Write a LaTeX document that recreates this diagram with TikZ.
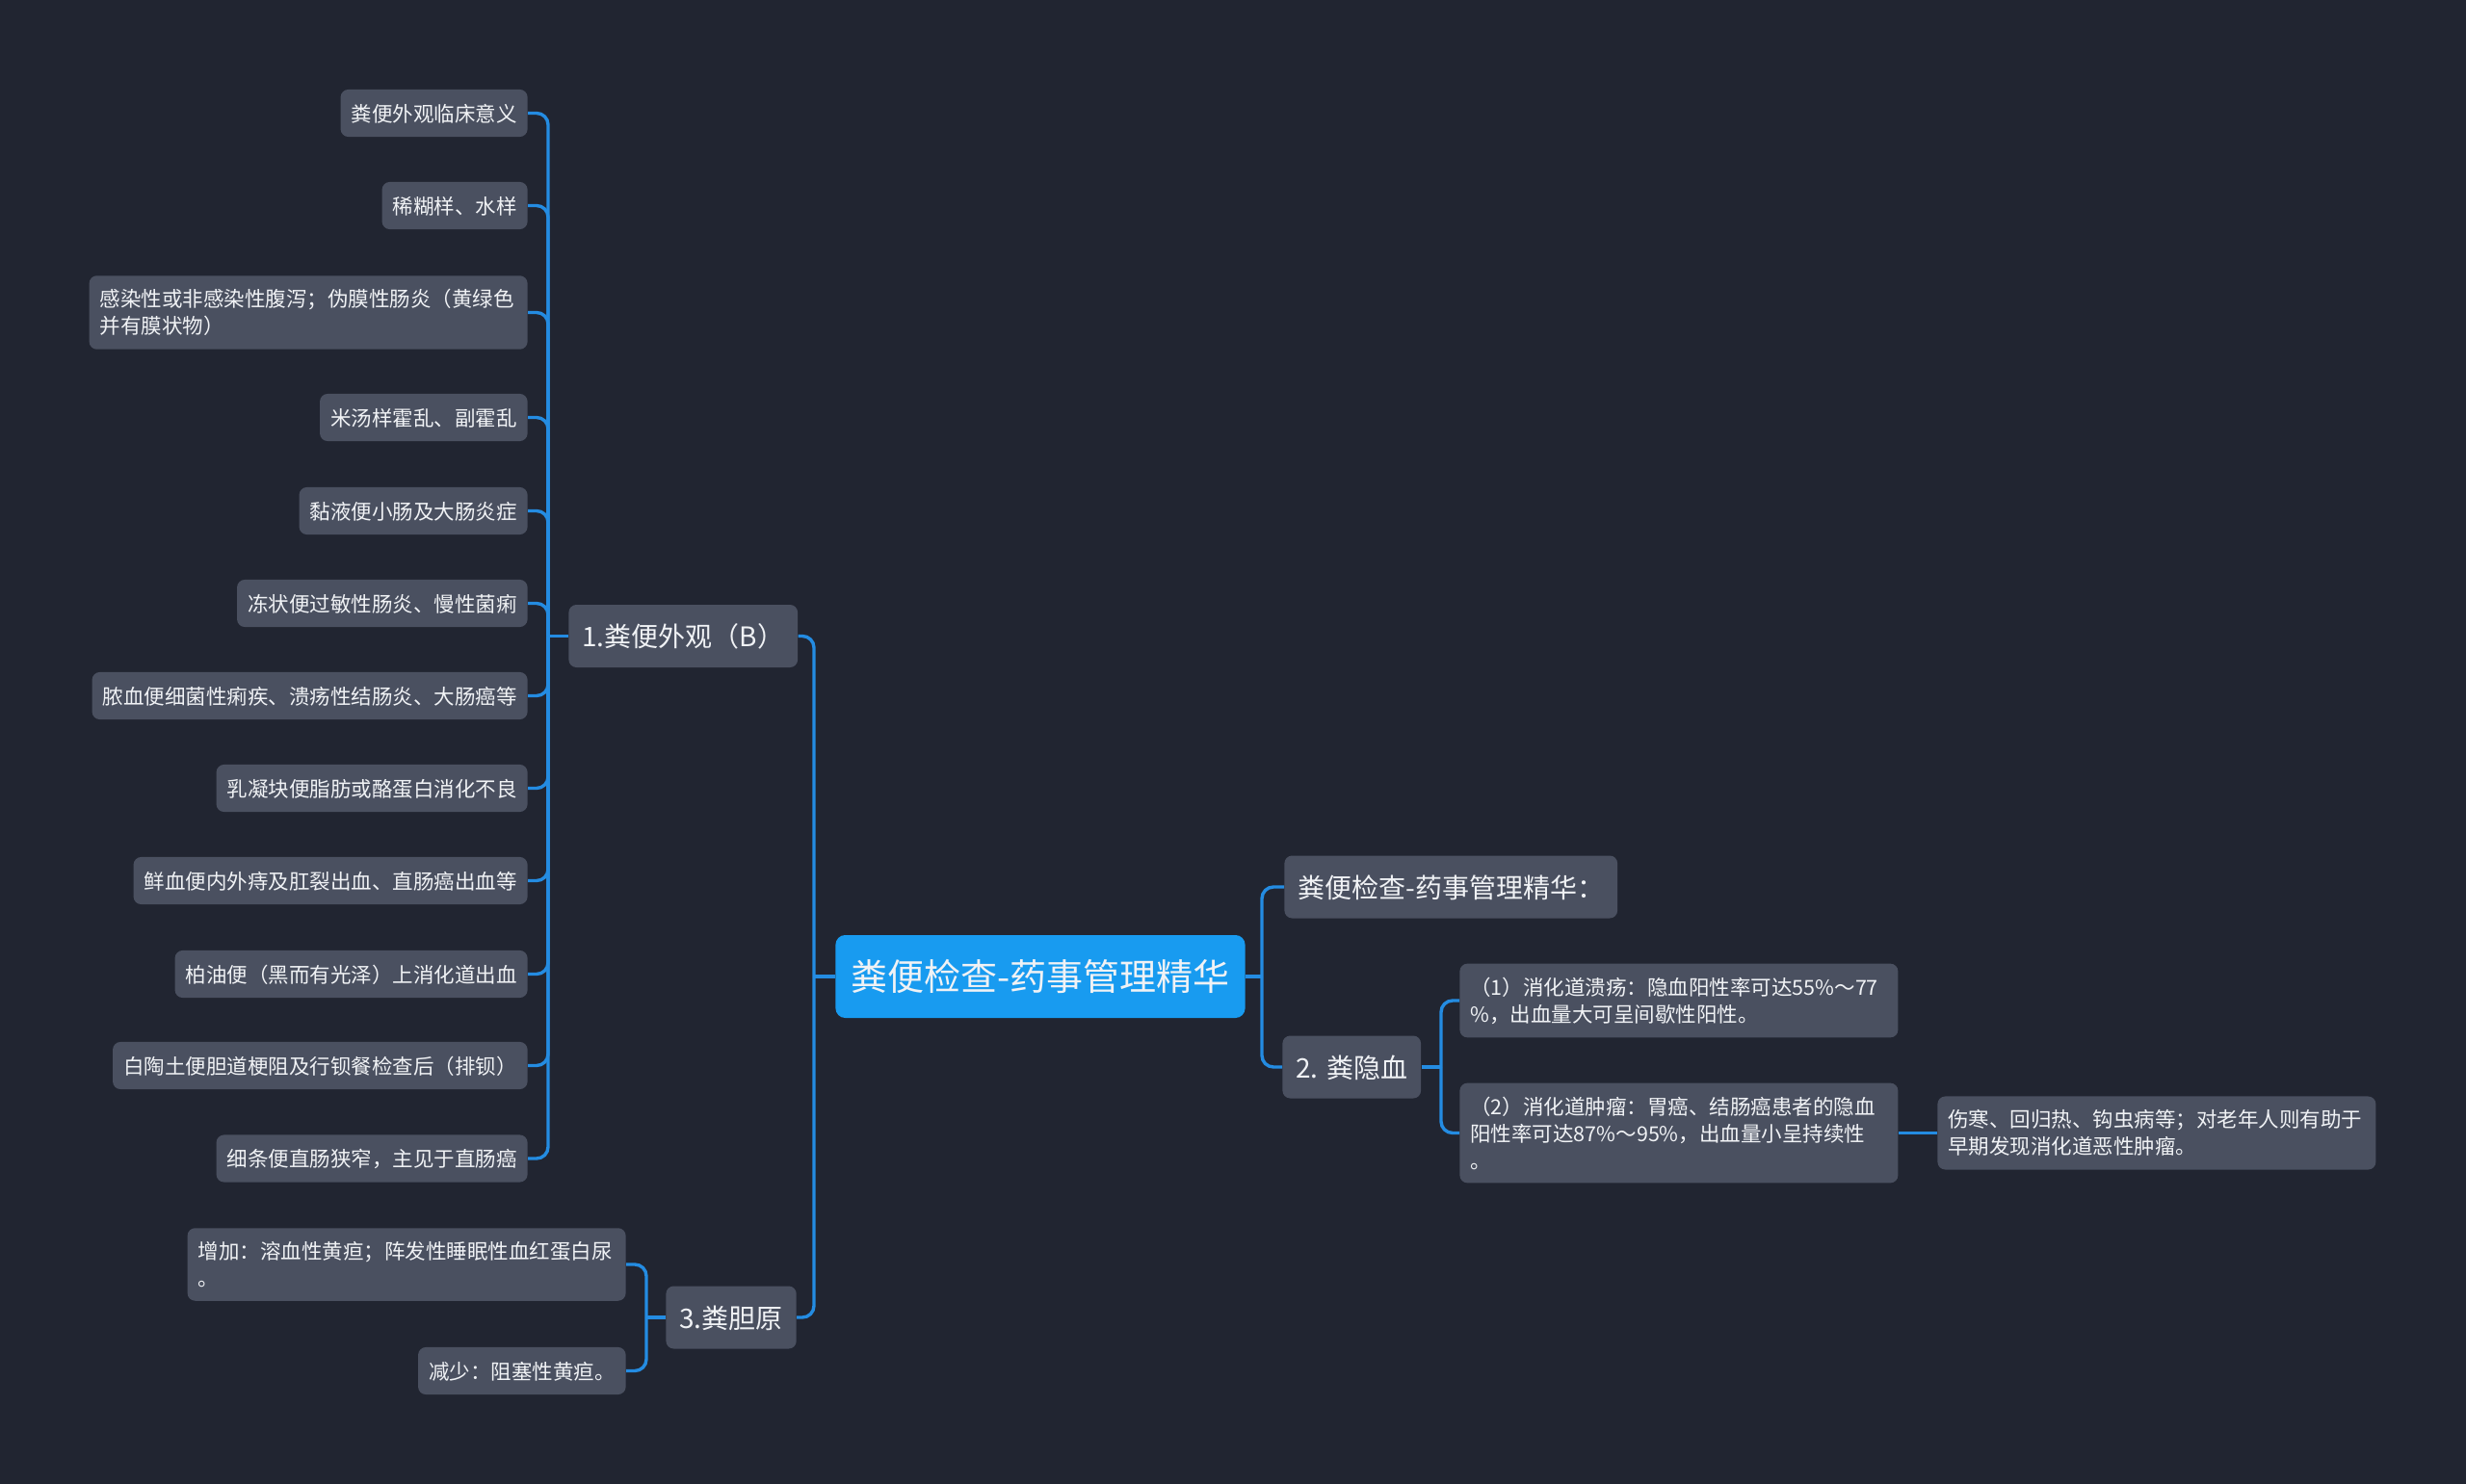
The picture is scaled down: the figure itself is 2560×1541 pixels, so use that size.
\documentclass[tikz,border=0pt]{standalone}
\usepackage{fontspec}
\setmainfont{Noto Sans CJK SC}
\definecolor{bgnavy}{RGB}{33,37,49}
\definecolor{boxgray}{RGB}{74,80,96}
\definecolor{rootblue}{RGB}{24,155,240}
\definecolor{linkblue}{RGB}{36,140,226}
\definecolor{paper}{RGB}{240,242,245}
\tikzset{
  boxbase/.style={fill=boxgray, rounded corners=4pt, text=paper},
  leaf/.style={boxbase, inner xsep=5.5pt, inner ysep=6.9pt, text height=9.8pt, text depth=0.95pt,
    font=\fontsize{10.75}{14}\selectfont},
  wideleaf/.style={boxbase, inner xsep=5.5pt, inner ysep=7pt, text width=216.5pt, align=left,
    font=\fontsize{10.75}{14}\selectfont},
  branch/.style={boxbase, inner xsep=7pt, inner ysep=9.25pt, text height=12.6pt, text depth=1.4pt,
    font=\fontsize{14}{17}\selectfont},
  rootbox/.style={boxbase, fill=rootblue, rounded corners=5pt, inner xsep=8pt, inner ysep=12pt,
    text height=16.8pt, text depth=2.2pt, font=\fontsize{19}{22}\selectfont},
  link/.style={draw=linkblue, line width=1.7pt, rounded corners=6pt}
}
\begin{document}
\begin{tikzpicture}[x=0.5pt, y=-0.5pt]
  \fill[bgnavy] (0,0) rectangle (2560,1541);
  \useasboundingbox (0,0) rectangle (2560,1541);

  % centre and main branches
  \node[rootbox, anchor=west] (root) at (867,1014) {粪便检查-药事管理精华};
  \node[branch, anchor=west] (look) at (590,660.5) {1.粪便外观（B）};
  \node[branch, anchor=west] (bile) at (691,1368) {3.粪胆原};
  \node[branch, anchor=west] (summary) at (1333,921) {粪便检查-药事管理精华：};
  \node[branch, anchor=west] (occult) at (1331,1108) {2. 粪隐血};

  % appearance leaves
  \node[leaf, anchor=east] (l1) at (548,117.5) {粪便外观临床意义};
  \node[leaf, anchor=east] (l2) at (548,213.5) {稀糊样、水样};
  \node[wideleaf, anchor=east] (l3) at (548,324.5) {感染性或非感染性腹泻；伪膜性肠炎（黄绿色\\并有膜状物）};
  \node[leaf, anchor=east] (l4) at (548,433.5) {米汤样霍乱、副霍乱};
  \node[leaf, anchor=east] (l5) at (548,530.5) {黏液便小肠及大肠炎症};
  \node[leaf, anchor=east] (l6) at (548,626.5) {冻状便过敏性肠炎、慢性菌痢};
  \node[leaf, anchor=east] (l7) at (548,722.5) {脓血便细菌性痢疾、溃疡性结肠炎、大肠癌等};
  \node[leaf, anchor=east] (l8) at (548,818.5) {乳凝块便脂肪或酪蛋白消化不良};
  \node[leaf, anchor=east] (l9) at (548,914.5) {鲜血便内外痔及肛裂出血、直肠癌出血等};
  \node[leaf, anchor=east] (l10) at (548,1011.5) {柏油便（黑而有光泽）上消化道出血};
  \node[leaf, anchor=east] (l11) at (548,1106.5) {白陶土便胆道梗阻及行钡餐检查后（排钡）};
  \node[leaf, anchor=east] (l12) at (548,1203) {细条便直肠狭窄，主见于直肠癌};

  % bile leaves
  \node[wideleaf, anchor=east] (rise) at (650,1313) {增加：溶血性黄疸；阵发性睡眠性血红蛋白尿\\。};
  \node[leaf, anchor=east] (fall) at (650,1423.5) {减少：阻塞性黄疸。};

  % occult blood leaves
  \node[wideleaf, anchor=west] (ulcer) at (1515,1039) {（1）消化道溃疡：隐血阳性率可达55\%～77\\\%，出血量大可呈间歇性阳性。};
  \node[wideleaf, anchor=west] (tumour) at (1515,1176.5) {（2）消化道肿瘤：胃癌、结肠癌患者的隐血\\阳性率可达87\%～95\%，出血量小呈持续性\\。};
  \node[wideleaf, anchor=west] (elder) at (2011,1176.5) {伤寒、回归热、钩虫病等；对老年人则有助于\\早期发现消化道恶性肿瘤。};

  % junctions
  \coordinate (jroot) at (845,1014);
  \coordinate (jright) at (1310,1014);
  \coordinate (jlook) at (569,660.5);
  \coordinate (jbile) at (671,1368);
  \coordinate (joccult) at (1496,1108);

  \draw[link] (root.west) -- (jroot);
  \draw[link] (jroot) |- (look.east);
  \draw[link] (jroot) |- (bile.east);
  \draw[link] (root.east) -- (jright);
  \draw[link] (jright) |- (summary.west);
  \draw[link] (jright) |- (occult.west);

  \draw[link] (look.west) -- (jlook);
  \foreach \k in {1,...,12}
    \draw[link] (jlook) |- (l\k.east);

  \draw[link] (bile.west) -- (jbile);
  \draw[link] (jbile) |- (rise.east);
  \draw[link] (jbile) |- (fall.east);

  \draw[link] (occult.east) -- (joccult);
  \draw[link] (joccult) |- (ulcer.west);
  \draw[link] (joccult) |- (tumour.west);
  \draw[link] (tumour.east) -- (elder.west);
\end{tikzpicture}
\end{document}
